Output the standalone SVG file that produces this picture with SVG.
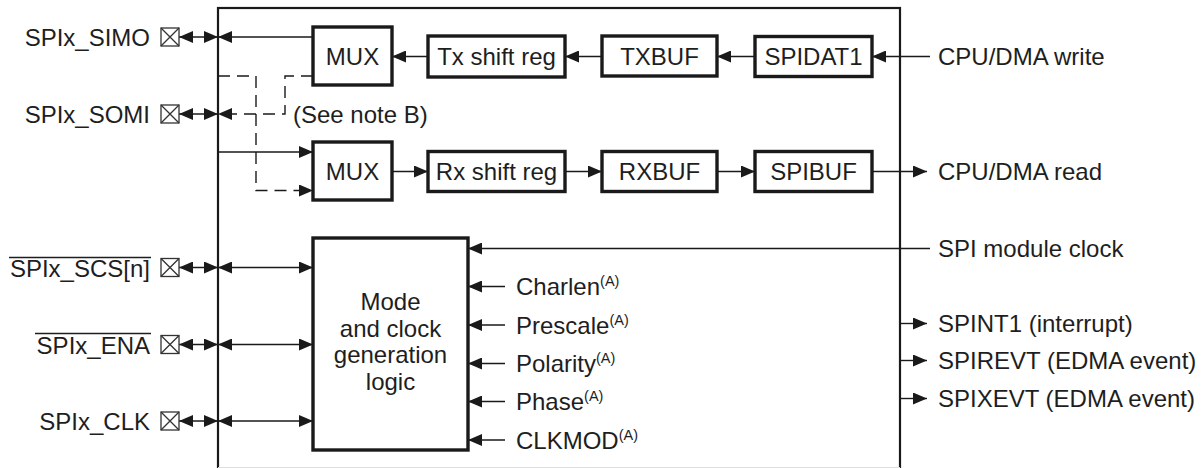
<svg xmlns="http://www.w3.org/2000/svg" width="1202" height="468" viewBox="0 0 1202 468">
<style>
text{font-family:"Liberation Sans",Arial,sans-serif;font-size:24px;fill:#1e1e1e}
.c{text-anchor:middle}
.e{text-anchor:end}
.sup{font-size:14.5px}
.blk{fill:#fff;stroke:#1a1a1a;stroke-width:3.4}
.ln{fill:none;stroke:#1a1a1a;stroke-width:1.4}
.dash{fill:none;stroke:#1a1a1a;stroke-width:1.4;stroke-dasharray:12,7}
.pin{fill:#fff;stroke:#333;stroke-width:1.3}
.ol{stroke:#1e1e1e;stroke-width:1.7}
</style>
<defs>
<marker id="ah" markerUnits="userSpaceOnUse" markerWidth="14" markerHeight="12" refX="14" refY="6" orient="auto-start-reverse" viewBox="0 0 14 12">
<path d="M0,0 L14,6 L0,12 z" fill="#1a1a1a"/>
</marker>
<g id="pinbox"><rect class="pin" x="0" y="0" width="18" height="18"/><path class="pin" d="M0,0 L18,18 M18,0 L0,18"/></g>
</defs>
<rect width="1202" height="468" fill="#fff"/>
<g id="module">
<rect x="218" y="8" width="682" height="461" fill="none" stroke="#1a1a1a" stroke-width="2.2"/>
<line x1="218" y1="467.5" x2="900" y2="467.5" stroke="#ddd" stroke-width="1"/>
</g>
<g id="connectors">
<path class="ln" d="M179,37 H218" marker-start="url(#ah)" marker-end="url(#ah)"/>
<path class="ln" d="M179,114 H218" marker-start="url(#ah)" marker-end="url(#ah)"/>
<path class="ln" d="M179,267.5 H218" marker-start="url(#ah)" marker-end="url(#ah)"/>
<path class="ln" d="M179,344.5 H218" marker-start="url(#ah)" marker-end="url(#ah)"/>
<path class="ln" d="M179,421 H218" marker-start="url(#ah)" marker-end="url(#ah)"/>
<path class="ln" d="M313,37 H218" marker-end="url(#ah)"/>
<path class="dash" d="M313,76 H285 V114 H218" marker-end="url(#ah)"/>
<path class="dash" d="M218,76 H256 V190.5 H313" marker-end="url(#ah)"/>
<path class="ln" d="M218,152 H313" marker-end="url(#ah)"/>
<path class="ln" d="M428,56.5 H392" marker-end="url(#ah)"/>
<path class="ln" d="M602,56.5 H565" marker-end="url(#ah)"/>
<path class="ln" d="M755,56.5 H717" marker-end="url(#ah)"/>
<path class="ln" d="M930,56.5 H872" marker-end="url(#ah)"/>
<path class="ln" d="M392,171.5 H428" marker-end="url(#ah)"/>
<path class="ln" d="M565,171.5 H602" marker-end="url(#ah)"/>
<path class="ln" d="M717,171.5 H755" marker-end="url(#ah)"/>
<path class="ln" d="M872,171.5 H927" marker-end="url(#ah)"/>
<path class="ln" d="M218,267.5 H313" marker-start="url(#ah)" marker-end="url(#ah)"/>
<path class="ln" d="M218,344.5 H313" marker-start="url(#ah)" marker-end="url(#ah)"/>
<path class="ln" d="M218,421 H313" marker-start="url(#ah)" marker-end="url(#ah)"/>
<path class="ln" d="M930,248.5 H468" marker-end="url(#ah)"/>
<path class="ln" d="M505,286.5 H468" marker-end="url(#ah)"/>
<path class="ln" d="M505,325 H468" marker-end="url(#ah)"/>
<path class="ln" d="M505,363.5 H468" marker-end="url(#ah)"/>
<path class="ln" d="M505,401.5 H468" marker-end="url(#ah)"/>
<path class="ln" d="M505,440 H468" marker-end="url(#ah)"/>
<path class="ln" d="M900,323.5 H927" marker-end="url(#ah)"/>
<path class="ln" d="M900,360.5 H927" marker-end="url(#ah)"/>
<path class="ln" d="M900,398.5 H927" marker-end="url(#ah)"/>
</g>
<g id="pin-simo"><use href="#pinbox" x="161" y="28"/><text class="e" x="150" y="45.5">SPIx_SIMO</text></g>
<g id="pin-somi"><use href="#pinbox" x="161" y="105"/><text class="e" x="150" y="122.5">SPIx_SOMI</text></g>
<g id="pin-scs"><use href="#pinbox" x="161" y="258.5"/><text class="e" x="150" y="276.5">SPIx_SCS[n]</text><line class="ol" x1="9" y1="257.5" x2="151" y2="257.5"/></g>
<g id="pin-ena"><use href="#pinbox" x="161" y="335.5"/><text class="e" x="150" y="353.5">SPIx_ENA</text><line class="ol" x1="35" y1="333.5" x2="151" y2="333.5"/></g>
<g id="pin-clk"><use href="#pinbox" x="161" y="412"/><text class="e" x="150" y="430">SPIx_CLK</text></g>
<g id="mux-tx"><rect class="blk" x="313" y="27" width="79" height="58"/><text class="c" x="352.5" y="65">MUX</text></g>
<g id="mux-rx"><rect class="blk" x="313" y="142" width="79" height="58"/><text class="c" x="352.5" y="180">MUX</text></g>
<g id="tx-shift"><rect class="blk" x="428" y="36" width="137" height="41"/><text class="c" x="496.5" y="65">Tx shift reg</text></g>
<g id="txbuf"><rect class="blk" x="602" y="36" width="115" height="40"/><text class="c" x="659.5" y="65">TXBUF</text></g>
<g id="spidat1"><rect class="blk" x="755" y="36.5" width="117" height="40"/><text class="c" x="813.5" y="65">SPIDAT1</text></g>
<g id="rx-shift"><rect class="blk" x="428" y="151.5" width="137" height="40"/><text class="c" x="496.5" y="180">Rx shift reg</text></g>
<g id="rxbuf"><rect class="blk" x="602" y="151.5" width="115" height="40"/><text class="c" x="659.5" y="180">RXBUF</text></g>
<g id="spibuf"><rect class="blk" x="755" y="151.5" width="117" height="40"/><text class="c" x="813.5" y="180">SPIBUF</text></g>
<g id="note-b"><text x="293" y="122.5">(See note B)</text></g>
<g id="mode-logic"><rect class="blk" x="313" y="238" width="155" height="212"/>
<text class="c" x="390.5" y="310">Mode</text>
<text class="c" x="390.5" y="336.5">and clock</text>
<text class="c" x="390.5" y="363">generation</text>
<text class="c" x="390.5" y="389.5">logic</text></g>
<g id="ctrl-inputs">
<text x="516" y="295">Charlen<tspan class="sup" dy="-9">(A)</tspan></text>
<text x="516" y="333.5">Prescale<tspan class="sup" dy="-9">(A)</tspan></text>
<text x="516" y="372">Polarity<tspan class="sup" dy="-9">(A)</tspan></text>
<text x="516" y="410">Phase<tspan class="sup" dy="-9">(A)</tspan></text>
<text x="516" y="448.5">CLKMOD<tspan class="sup" dy="-9">(A)</tspan></text>
</g>
<g id="ext-right">
<text x="938" y="65">CPU/DMA write</text>
<text x="938" y="180">CPU/DMA read</text>
<text x="938" y="257">SPI module clock</text>
<text x="938" y="332">SPINT1 (interrupt)</text>
<text x="938" y="369">SPIREVT (EDMA event)</text>
<text x="938" y="407">SPIXEVT (EDMA event)</text>
</g>
</svg>
